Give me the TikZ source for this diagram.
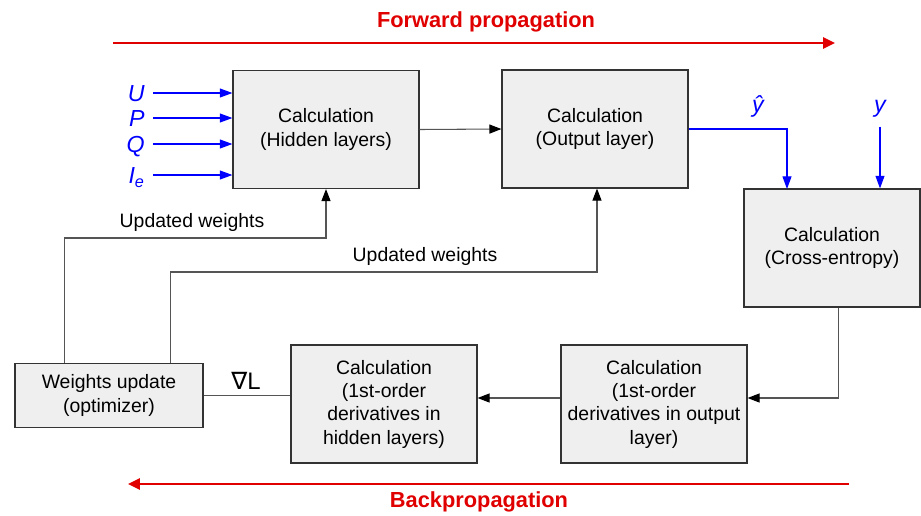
\documentclass[tikz,border=0pt]{standalone}
\usepackage{fontspec}
\setmainfont{Liberation Sans}
\newfontfamily\symfont{DejaVu Sans}
\usetikzlibrary{arrows.meta,positioning,calc}

\begin{document}
\begin{tikzpicture}[
    x=0.025cm, y=-0.025cm,
    %styles
    block/.style={draw=boxline, fill=boxfill, line width=0.8pt, align=center,
        minimum width=4.65cm, minimum height=2.95cm, inner sep=2pt,
        font=\fontsize{13.8}{16.6}\selectfont},
    link/.style={draw=flowgray, line width=0.75pt},
    flow/.style={link, -{Triangle[length=8.5pt,width=6.4pt,color=black]}},
    signal/.style={draw=sigblue, line width=0.8pt, -{Triangle[length=9pt,width=6.4pt]}},
    direction/.style={draw=propred, line width=1.5pt, -{Triangle[length=8.5pt,width=8pt]}},
    title text/.style={text=propred, font=\fontsize{15.5}{18}\selectfont\bfseries},
    label text/.style={font=\fontsize{13.8}{16.6}\selectfont},
    var text/.style={text=sigblue, inner sep=0pt, text height=12pt, text depth=0pt,
        font=\fontsize{16.5}{19}\selectfont\itshape},
  ]
  %colors
  \definecolor{boxfill}{HTML}{EFEFEF}
  \definecolor{boxline}{HTML}{333333}
  \definecolor{flowgray}{HTML}{555555}
  \definecolor{sigblue}{HTML}{0000FF}
  \definecolor{propred}{HTML}{E00000}
  \useasboundingbox (0,0) rectangle (921,515);

  %forward part
  \node[block] (hidden) at (326,129.5) {Calculation\\(Hidden layers)};
  \node[block] (output) at (595,129) {Calculation\\(Output layer)};
  \node[block, minimum width=4.4cm] (xent) at (832,248) {Calculation\\(Cross-entropy)};

  %backward part
  \node[block, minimum width=4.7cm, minimum height=1.62cm] (wupd) at (109,395.5) {Weights update\\(optimizer)};
  \node[block] (dhid) at (384,404) {Calculation\\(1st-order\\derivatives in\\hidden layers)};
  \node[block] (dout) at (654,404) {Calculation\\(1st-order\\derivatives in output\\layer)};

  %inputs
  \foreach \vname/\vtext/\ypos in {u/U/93, p/P/118, q/Q/144, ie/I\textsubscript{e}/175}
  {
    \node[var text, anchor=east] (in-\vname) at (145,\ypos) {\vtext};
    \draw[signal] ([xshift=0.2cm]in-\vname.east) -- (in-\vname.east -| hidden.west);
  }

  \draw[flow] (hidden.east) -- (output.east -| output.west);

  %prediction and target
  \node[var text] (yhat) at (758,104) {\^{y}};
  \node[var text] (ytrue) at (880,104) {y};
  \coordinate (yhatin) at (787,189);
  \draw[signal] (output.east) -| (yhatin);
  \draw[signal] ([yshift=-0.35cm]ytrue.south) -- (ytrue.south |- xent.north);

  %gradients
  \draw[flow] ([xshift=0.17cm]xent.south) |- ([yshift=0.15cm]dout.east);
  \draw[flow] ([yshift=0.15cm]dout.west) -- ([yshift=0.15cm]dhid.east);
  \draw[link] (wupd.east) -- (wupd.east -| dhid.west);
  \node[label text, font=\fontsize{17}{20}\selectfont] (grad) at (246,381) {{\symfont ∇}L};

  %weight updates
  \draw[flow] ([xshift=1.25cm]wupd.north west) |- (hidden.south |- 0,238) -- (hidden.south);
  \node[label text] (upd1) at (192,222) {Updated weights};
  \draw[flow] ([xshift=3.9cm]wupd.north west) |- ([xshift=0.05cm]output.south |- 0,272) -- ([xshift=0.05cm]output.south);
  \node[label text] (upd2) at (425,256) {Updated weights};

  %directions
  \node[title text] (fwd) at (486,22) {Forward propagation};
  \coordinate (fstart) at (113,43);
  \coordinate (fend) at (835,43);
  \draw[direction] (fstart) -- (fend);
  \node[title text] (bwd) at (479,502) {Backpropagation};
  \coordinate (bstart) at (849,484);
  \coordinate (bend) at (128,484);
  \draw[direction] (bstart) -- (bend);
\end{tikzpicture}
\end{document}
